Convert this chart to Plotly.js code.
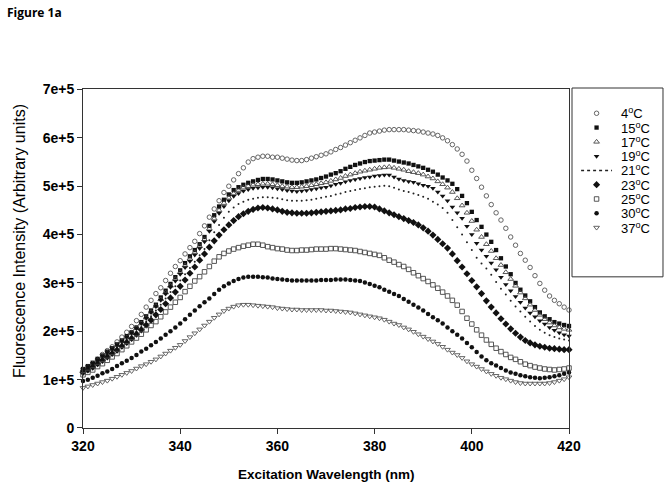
<!DOCTYPE html>
<html>
<head>
<meta charset="utf-8">
<script src="https://cdn.plot.ly/plotly-3.0.1.min.js"></script>
<style>html,body{margin:0;padding:0;background:#fff;}#chart{width:670px;height:493px;}</style>
</head>
<body>
<div id="chart"></div>
<script>
// Wavelength axis (nm), one reading every 1 nm from 320 to 420
const wlStart = 320, wlEnd = 420;
const wavelengths = [];
for (let w = wlStart; w <= wlEnd; w++) wavelengths.push(w);

// Series values in units of 1e5 (arbitrary fluorescence units)
const t4 = [1.18,1.25,1.32,1.42,1.52,1.6,1.68,1.78,1.88,1.98,2.1,2.22,2.35,2.5,2.64,2.78,2.9,3.05,3.2,3.34,3.46,3.6,3.73,3.86,4.02,
  4.18,4.36,4.53,4.7,4.87,5.0,5.13,5.26,5.38,5.5,5.57,5.6,5.62,5.62,5.6,5.6,5.58,5.56,5.54,5.53,5.53,5.55,5.58,5.61,5.64,
  5.67,5.71,5.76,5.8,5.85,5.9,5.95,6.0,6.05,6.1,6.12,6.14,6.16,6.17,6.17,6.17,6.17,6.16,6.15,6.14,6.12,6.1,6.08,6.05,6.0,
  5.94,5.86,5.77,5.66,5.52,5.33,5.16,4.98,4.8,4.62,4.45,4.3,4.13,3.95,3.78,3.61,3.47,3.32,3.15,2.99,2.85,2.73,2.64,2.57,2.5,2.44];
const t15 = [1.22,1.28,1.35,1.43,1.5,1.58,1.65,1.73,1.81,1.9,1.98,2.08,2.19,2.31,2.43,2.55,2.7,2.84,2.98,3.12,3.26,3.41,3.55,3.68,3.8,
  3.95,4.18,4.4,4.58,4.72,4.83,4.92,4.98,5.03,5.07,5.1,5.13,5.15,5.15,5.14,5.12,5.1,5.08,5.07,5.07,5.08,5.1,5.12,5.14,5.17,
  5.2,5.24,5.27,5.31,5.36,5.4,5.44,5.47,5.5,5.52,5.53,5.54,5.55,5.55,5.53,5.51,5.49,5.47,5.44,5.41,5.38,5.34,5.3,5.24,5.18,
  5.12,5.05,4.94,4.8,4.65,4.47,4.3,4.16,4.0,3.85,3.68,3.51,3.34,3.18,3.0,2.86,2.74,2.62,2.5,2.39,2.31,2.25,2.19,2.16,2.13,2.11];
const t17 = [1.2,1.26,1.33,1.4,1.48,1.55,1.63,1.71,1.79,1.87,1.96,2.06,2.16,2.28,2.4,2.52,2.66,2.8,2.94,3.08,3.22,3.36,3.5,3.63,3.76,
  3.9,4.12,4.33,4.5,4.65,4.76,4.85,4.92,4.97,5.0,5.03,5.04,5.05,5.05,5.04,5.02,5.0,4.99,4.98,4.98,4.99,5.0,5.02,5.04,5.06,
  5.08,5.11,5.14,5.17,5.21,5.24,5.27,5.3,5.32,5.34,5.36,5.38,5.39,5.4,5.38,5.36,5.34,5.31,5.29,5.27,5.24,5.2,5.16,5.1,5.04,
  4.97,4.88,4.75,4.6,4.45,4.28,4.1,3.95,3.8,3.66,3.51,3.37,3.22,3.08,2.94,2.8,2.68,2.55,2.44,2.34,2.25,2.18,2.12,2.08,2.05,2.03];
const t19 = [1.21,1.27,1.34,1.41,1.49,1.56,1.64,1.72,1.8,1.88,1.97,2.06,2.16,2.27,2.39,2.51,2.64,2.77,2.91,3.04,3.18,3.32,3.45,3.58,3.71,
  3.85,4.07,4.27,4.44,4.58,4.7,4.79,4.85,4.9,4.93,4.96,4.97,4.98,4.98,4.97,4.95,4.93,4.91,4.9,4.89,4.9,4.91,4.93,4.95,4.97,
  4.98,5.01,5.04,5.06,5.09,5.12,5.14,5.16,5.18,5.19,5.21,5.22,5.23,5.23,5.19,5.15,5.12,5.1,5.08,5.05,5.02,5.0,4.96,4.88,4.8,
  4.7,4.57,4.45,4.34,4.17,4.0,3.82,3.68,3.55,3.41,3.27,3.12,2.97,2.84,2.72,2.6,2.48,2.38,2.3,2.22,2.15,2.08,2.02,1.97,1.93,1.9];
const t21 = [1.17,1.23,1.3,1.37,1.44,1.51,1.58,1.66,1.74,1.82,1.9,1.99,2.09,2.2,2.31,2.43,2.55,2.68,2.81,2.93,3.05,3.18,3.31,3.44,3.57,
  3.7,3.88,4.05,4.2,4.35,4.47,4.56,4.63,4.68,4.72,4.74,4.76,4.77,4.77,4.76,4.75,4.73,4.71,4.7,4.7,4.7,4.71,4.72,4.74,4.76,
  4.78,4.8,4.83,4.85,4.88,4.9,4.92,4.94,4.96,4.98,4.99,5.0,5.01,5.0,4.97,4.93,4.9,4.88,4.85,4.82,4.78,4.74,4.68,4.62,4.55,
  4.45,4.3,4.15,4.0,3.84,3.68,3.52,3.4,3.3,3.17,3.02,2.88,2.76,2.63,2.51,2.41,2.3,2.2,2.11,2.03,1.97,1.92,1.88,1.85,1.83,1.81];
const t23 = [1.15,1.2,1.26,1.33,1.4,1.47,1.54,1.61,1.69,1.77,1.85,1.94,2.03,2.13,2.23,2.34,2.45,2.57,2.69,2.81,2.93,3.06,3.2,3.33,3.47,
  3.6,3.74,3.87,3.99,4.1,4.2,4.29,4.37,4.43,4.48,4.52,4.55,4.56,4.55,4.53,4.51,4.48,4.46,4.45,4.44,4.44,4.44,4.45,4.46,4.47,
  4.48,4.49,4.5,4.51,4.53,4.54,4.56,4.57,4.58,4.58,4.57,4.53,4.49,4.45,4.41,4.37,4.33,4.29,4.25,4.2,4.14,4.07,3.99,3.9,3.81,
  3.72,3.6,3.46,3.33,3.19,3.05,2.92,2.78,2.63,2.5,2.38,2.26,2.15,2.05,1.96,1.88,1.81,1.76,1.72,1.69,1.67,1.65,1.64,1.63,1.62,1.62];
const t25 = [1.1,1.15,1.2,1.27,1.33,1.4,1.47,1.54,1.62,1.7,1.78,1.86,1.94,2.03,2.12,2.2,2.3,2.4,2.5,2.6,2.7,2.82,2.93,3.04,3.13,
  3.23,3.34,3.45,3.54,3.61,3.66,3.7,3.73,3.76,3.78,3.8,3.8,3.78,3.75,3.73,3.71,3.7,3.68,3.67,3.67,3.68,3.68,3.69,3.7,3.7,
  3.7,3.71,3.71,3.7,3.69,3.68,3.67,3.65,3.63,3.61,3.59,3.57,3.52,3.47,3.43,3.38,3.34,3.28,3.21,3.15,3.09,3.03,2.96,2.89,2.81,
  2.73,2.64,2.54,2.41,2.27,2.15,2.03,1.92,1.82,1.73,1.65,1.58,1.52,1.46,1.42,1.37,1.32,1.29,1.26,1.24,1.22,1.21,1.2,1.21,1.22,1.24];
const t30 = [0.97,1.0,1.04,1.08,1.13,1.17,1.22,1.28,1.34,1.39,1.45,1.51,1.58,1.64,1.71,1.78,1.85,1.93,2.0,2.08,2.16,2.25,2.34,2.43,2.52,
  2.6,2.68,2.77,2.86,2.93,2.99,3.04,3.08,3.11,3.13,3.13,3.13,3.12,3.11,3.09,3.08,3.07,3.06,3.05,3.05,3.05,3.05,3.05,3.05,3.06,
  3.06,3.06,3.07,3.07,3.07,3.06,3.05,3.04,3.01,2.98,2.94,2.91,2.86,2.82,2.77,2.73,2.67,2.61,2.55,2.49,2.43,2.36,2.29,2.23,2.16,
  2.08,2.0,1.93,1.85,1.76,1.67,1.57,1.48,1.4,1.34,1.29,1.24,1.19,1.15,1.12,1.09,1.07,1.05,1.04,1.03,1.04,1.05,1.07,1.09,1.12,1.15];
const t37 = [0.83,0.86,0.89,0.92,0.95,0.98,1.02,1.06,1.1,1.14,1.18,1.23,1.28,1.32,1.37,1.42,1.48,1.54,1.6,1.66,1.72,1.8,1.88,1.96,2.04,
  2.12,2.2,2.28,2.35,2.42,2.47,2.51,2.54,2.55,2.55,2.54,2.53,2.52,2.51,2.5,2.48,2.47,2.46,2.45,2.45,2.44,2.44,2.44,2.44,2.44,
  2.43,2.43,2.42,2.41,2.4,2.39,2.37,2.35,2.33,2.31,2.29,2.27,2.24,2.2,2.16,2.13,2.08,2.04,1.99,1.94,1.89,1.84,1.79,1.74,1.68,
  1.62,1.56,1.51,1.45,1.38,1.32,1.27,1.22,1.17,1.12,1.08,1.04,1.01,0.98,0.95,0.93,0.92,0.92,0.92,0.92,0.92,0.93,0.95,0.98,1.01,1.05];
const valueUnit = 1e5;

const seriesLabels = ['4', '15', '17', '19', '21', '23', '25', '30', '37'];
const seriesData = [t4, t15, t17, t19, t21, t23, t25, t30, t37];
const yTickVals = [0, 1e5, 2e5, 3e5, 4e5, 5e5, 6e5, 7e5];
const xTickVals = [320, 340, 360, 380, 400, 420];

// styles
const ink = '#111';
const styles = [
  {symbol: 'circle-open', size: 4.5, color: '#555', lw: 0.9},
  {symbol: 'square', size: 4.3, color: ink, lw: 0},
  {symbol: 'triangle-up-open', size: 5, color: '#444', lw: 0.9},
  {symbol: 'triangle-down', size: 5, color: ink, lw: 0},
  {symbol: 'circle', size: 2, color: '#222', lw: 0, dotted: true},
  {symbol: 'diamond', size: 5.5, color: ink, lw: 0},
  {symbol: 'square-open', size: 4.5, color: '#444', lw: 0.9},
  {symbol: 'circle', size: 4.5, color: ink, lw: 0},
  {symbol: 'triangle-down-open', size: 5, color: '#555', lw: 0.9}
];

const traces = [];
seriesData.forEach((vals, i) => {
  const st = styles[i];
  traces.push({
    type: 'scatter', mode: 'markers',
    x: wavelengths, y: vals.map(v => v * valueUnit),
    name: seriesLabels[i] + '°C', showlegend: false, cliponaxis: false,
    marker: {symbol: st.symbol, size: st.size, color: st.color, line: {color: st.color, width: st.lw}},
    hoverinfo: 'skip'
  });
});

// custom legend drawn in its own small axes
const legendAnnotations = [];
seriesLabels.forEach((lab, i) => {
  const st = styles[i];
  if (st.dotted) {
    traces.push({type: 'scatter', mode: 'lines', x: [0.1, 0.44], y: [i, i], xaxis: 'x2', yaxis: 'y2',
      showlegend: false, hoverinfo: 'skip', line: {color: '#222', width: 1.5, dash: 'dot'}});
  } else {
    traces.push({type: 'scatter', mode: 'markers', x: [0.27], y: [i], xaxis: 'x2', yaxis: 'y2',
      showlegend: false, hoverinfo: 'skip', cliponaxis: false,
      marker: {symbol: st.symbol, size: st.size, color: st.color, line: {color: st.color, width: st.lw}}});
  }
  legendAnnotations.push({xref: 'x2', yref: 'y2', x: 0.52, y: i, xanchor: 'left', yanchor: 'middle',
    text: lab + '<sup>o</sup>C', showarrow: false, font: {family: 'Liberation Sans, Arial, sans-serif', size: 13, color: '#000'}});
});

const F = 'Liberation Sans, Arial, sans-serif';
const layout = {
  width: 670, height: 493,
  margin: {l: 83, r: 0, t: 88, b: 64.7, pad: 0},
  paper_bgcolor: '#fff', plot_bgcolor: '#fff',
  showlegend: false,
  xaxis: {
    domain: [0, 0.82794], range: [320, 420], tickvals: xTickVals,
    ticks: 'outside', ticklen: 5, tickcolor: '#333', showline: true, linecolor: '#333', linewidth: 1,
    mirror: true, showgrid: false, zeroline: false,
    tickfont: {family: F, size: 14, color: '#000', weight: 'bold'}
  },
  yaxis: {
    domain: [0, 0.99559], range: [0, 7e5], tickvals: yTickVals, exponentformat: 'e', showexponent: 'all',
    ticks: 'outside', ticklen: 5, tickcolor: '#333', showline: true, linecolor: '#333', linewidth: 1,
    mirror: true, showgrid: false, zeroline: false,
    tickfont: {family: F, size: 14, color: '#000', weight: 'bold'}
  },
  xaxis2: {domain: [0.83305, 0.98807], range: [0, 1], visible: false, anchor: 'y2', fixedrange: true},
  yaxis2: {domain: [0.4446, 1], range: [11.45, -1.77], visible: false, anchor: 'x2', fixedrange: true},
  shapes: [{type: 'rect', xref: 'paper', yref: 'paper', x0: 0.83305, x1: 0.98807, y0: 0.4446, y1: 1,
    line: {color: '#333', width: 1}, fillcolor: 'rgba(0,0,0,0)'}],
  annotations: legendAnnotations.concat([
    {xref: 'paper', yref: 'paper', x: -0.1073, y: 0.5504, xanchor: 'center', yanchor: 'middle', textangle: -90,
      text: 'Fluorescence Intensity (Arbitrary units)', showarrow: false, font: {family: F, size: 16, color: '#000'}},
    {xref: 'paper', yref: 'paper', x: 0.414, y: -0.1372, xanchor: 'center', yanchor: 'middle',
      text: 'Excitation Wavelength (nm)', showarrow: false, font: {family: F, size: 13.5, color: '#000', weight: 'bold'}},
    {xref: 'paper', yref: 'paper', x: -0.1329, y: 1.2233, xanchor: 'left', yanchor: 'middle',
      text: 'Figure 1a', showarrow: false, font: {family: 'Open Sans, Liberation Sans, sans-serif', size: 12, color: '#000', weight: 'bold'}}
  ])
};

Plotly.newPlot('chart', traces, layout, {displayModeBar: false, staticPlot: true});
</script>
</body>
</html>
